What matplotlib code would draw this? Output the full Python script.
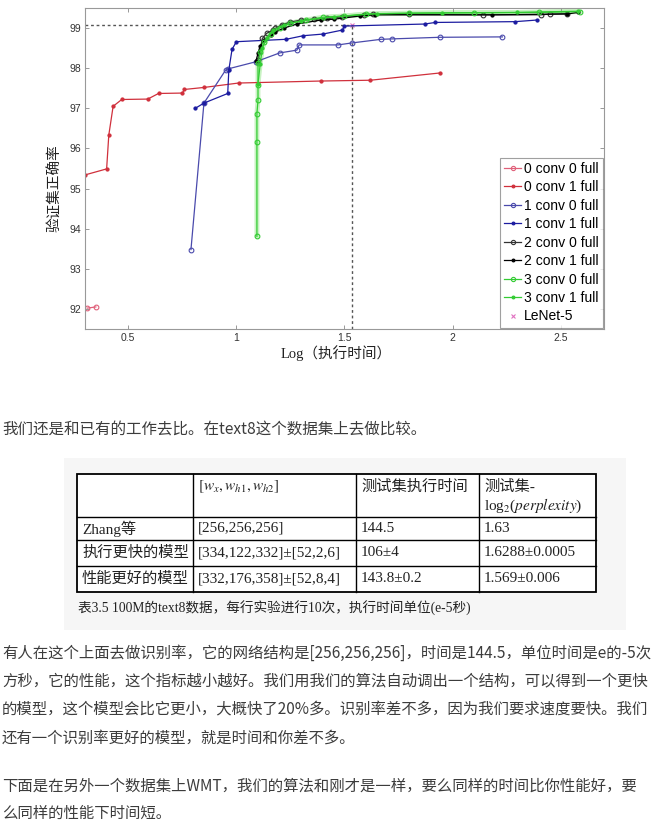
import matplotlib
matplotlib.use("Agg")
import matplotlib.pyplot as plt
from matplotlib.patches import Rectangle

# ── DATA ─────────────────────────────────────────

red_o_x = [0.31, 0.35]
red_o_y = [92.02, 92.05]

red_f_x = [0.30, 0.40, 0.41, 0.43, 0.47, 0.59, 0.64, 0.75, 0.76, 0.85, 1.01, 1.39, 1.62, 1.94]
red_f_y = [95.34, 95.49, 96.33, 97.05, 97.22, 97.23, 97.37, 97.38, 97.47, 97.52, 97.63, 97.68, 97.70, 97.88]

blue_o_x = [0.79, 0.85, 0.95, 0.96, 1.09, 1.20, 1.28, 1.29, 1.47, 1.535, 1.67, 1.72, 1.94, 2.23]
blue_o_y = [93.48, 97.13, 97.95, 97.98, 98.16, 98.38, 98.45, 98.58, 98.58, 98.63, 98.72, 98.73, 98.77, 98.78]

blue_f_x = [0.81, 0.85, 0.96, 0.965, 0.98, 1.0, 1.23, 1.31, 1.40, 1.49, 1.50, 1.87, 1.92, 2.29, 2.39]
blue_f_y = [97.0, 97.13, 97.37, 97.95, 98.47, 98.66, 98.72, 98.81, 98.85, 98.95, 99.05, 99.10, 99.14, 99.16, 99.20]

black_o_x = [1.10, 1.12, 1.14, 1.17, 1.18, 1.21, 1.25, 1.30, 1.36, 1.42, 1.49, 1.59, 1.63, 1.80, 2.14, 2.41, 2.45, 2.53]
black_o_y = [98.2, 98.74, 98.87, 98.95, 98.99, 99.08, 99.15, 99.2, 99.22, 99.24, 99.28, 99.33, 99.34, 99.34, 99.33, 99.33, 99.35, 99.36]

black_f_x = [1.09, 1.10, 1.11, 1.13, 1.16, 1.18, 1.22, 1.28, 1.39, 1.45, 1.57, 1.64, 2.18, 2.53, 2.58]
black_f_y = [98.17, 98.37, 98.56, 98.7, 98.82, 98.9, 99.0, 99.1, 99.2, 99.22, 99.3, 99.33, 99.33, 99.35, 99.39]

green_o_x = [1.095, 1.095, 1.095, 1.10, 1.10, 1.10, 1.11, 1.13, 1.16, 1.20, 1.25, 1.32, 1.40, 1.50, 1.60, 1.80, 2.10, 2.40, 2.59]
green_o_y = [93.81, 96.16, 96.87, 97.2, 97.57, 98.12, 98.4, 98.65, 98.85, 99.0, 99.12, 99.2, 99.27, 99.3, 99.35, 99.37, 99.38, 99.39, 99.41]

green_f_x = [1.10, 1.11, 1.12, 1.14, 1.17, 1.22, 1.30, 1.45, 1.65, 1.95, 2.30, 2.58]
green_f_y = [97.6, 98.1, 98.5, 98.75, 98.95, 99.08, 99.18, 99.28, 99.36, 99.38, 99.39, 99.42]

lenet_x = [1.535]
lenet_y = [99.07]

series_labels = ["0 conv 0 full", "0 conv 1 full", "1 conv 0 full", "1 conv 1 full",
                 "2 conv 0 full", "2 conv 1 full", "3 conv 0 full", "3 conv 1 full"]

x_ticks = [0.5, 1, 1.5, 2, 2.5]
x_tick_labels = ["0.5", "1", "1.5", "2", "2.5"]
y_ticks = [92, 93, 94, 95, 96, 97, 98, 99]

intro_text = "我们还是和已有的工作去比。在text8这个数据集上去做比较。"

table_header = ["", r"$[w_x, w_{h1}, w_{h2}]$", "测试集执行时间", "测试集-"]
table_header2 = ["", "", "", r"log$_2$($perplexity$)"]
row_names = ["Zhang等", "执行更快的模型", "性能更好的模型"]
row_struct = ["[256,256,256]", "[334,122,332]±[52,2,6]", "[332,176,358]±[52,8,4]"]
row_time = ["144.5", "106±4", "143.8±0.2"]
row_ppl = ["1.63", "1.6288±0.0005", "1.569±0.006"]
table_caption = "表3.5 100M的text8数据，每行实验进行10次，执行时间单位(e-5秒)"

para1 = [
    "有人在这个上面去做识别率，它的网络结构是[256,256,256]，时间是144.5，单位时间是e的-5次",
    "方秒，它的性能，这个指标越小越好。我们用我们的算法自动调出一个结构，可以得到一个更快",
    "的模型，这个模型会比它更小，大概快了20%多。识别率差不多，因为我们要求速度要快。我们",
    "还有一个识别率更好的模型，就是时间和你差不多。",
]
para2 = [
    "下面是在另外一个数据集上WMT，我们的算法和刚才是一样，要么同样的时间比你性能好，要",
    "么同样的性能下时间短。",
]

# ── SETUP ────────────────────────────────────────

W, H = 668, 825
CJK = ["Noto Sans CJK SC", "DejaVu Sans"]
SERIF_CJK = ["Liberation Serif", "Noto Sans CJK SC"]
TEXT_COLOR = "#3c3c3c"

plt.rcParams["font.family"] = ["Liberation Sans", "Noto Sans CJK SC"]
plt.rcParams["mathtext.fontset"] = "stix"


def px_box(l, t, r, b):
    return [l / W, 1 - b / H, (r - l) / W, (b - t) / H]


fig = plt.figure(figsize=(W / 100, H / 100), dpi=100)

page = fig.add_axes([0, 0, 1, 1], zorder=0)
page.set_xlim(0, W)
page.set_ylim(H, 0)
page.axis("off")

# ── CHART ────────────────────────────────────────

ax = fig.add_axes(px_box(85, 8, 604, 329), zorder=1)

RED, RED_L = "#d0303c", "#e0607a"
BLUE, BLUE_L = "#1c1ca0", "#4a4aac"
GREEN = "#33cc33"
GLOW = "#c8f2c2"

series = [
    (red_o_x, red_o_y, RED_L, "o", "none"),
    (red_f_x, red_f_y, RED, ".", RED),
    (blue_o_x, blue_o_y, BLUE_L, "o", "none"),
    (blue_f_x, blue_f_y, BLUE, ".", BLUE),
    (black_o_x, black_o_y, "#333333", "o", "none"),
    (black_f_x, black_f_y, "black", ".", "black"),
    (green_o_x, green_o_y, GREEN, "o", "none"),
    (green_f_x, green_f_y, GREEN, ".", GREEN),
]

# soft halo under the green runs (blurred screenshot look)
for xs, ys, col, mk, mfc in series[6:]:
    ax.plot(xs, ys, color=GLOW, lw=3.5, zorder=1.5, solid_capstyle="round")

for (xs, ys, col, mk, mfc), lab in zip(series, series_labels):
    ms = 3.4 if mk == "o" else 4.5
    z = 2.2 if col == GREEN else 2
    ax.plot(xs, ys, color=col, lw=0.9, marker=mk, ms=ms, mfc=mfc, mec=col,
            mew=0.8, label=lab, zorder=z)

ax.plot(lenet_x, lenet_y, linestyle="none", marker="x", ms=3, color="#e070c0",
        mew=0.8, label="LeNet-5", zorder=0)

# dashed guides through LeNet-5
ax.plot([0.3, lenet_x[0]], [lenet_y[0], lenet_y[0]], color="#555555", ls=(0, (2, 2)), lw=1.0, zorder=0)
ax.plot([lenet_x[0], lenet_x[0]], [91.5, lenet_y[0]], color="#555555", ls=(0, (2, 2)), lw=1.0, zorder=0)

ax.set_xlim(0.3, 2.7)
ax.set_ylim(91.5, 99.5)
ax.set_xticks(x_ticks)
ax.set_xticklabels(x_tick_labels)
ax.set_yticks(y_ticks)
ax.tick_params(direction="in", top=True, right=True, length=3, width=0.6,
               labelsize=7.5, colors="#888888", labelcolor="#333333", pad=3)
for s in ax.spines.values():
    s.set_color("#999999")
    s.set_linewidth(0.8)

ax.set_ylabel("验证集正确率", family=SERIF_CJK, fontsize=10.5, color="#222222")
ax.yaxis.set_label_coords(-0.044, 0.44)
ax.set_xlabel("Log（执行时间）", family=SERIF_CJK, fontsize=10.5, color="#222222")
ax.xaxis.set_label_coords(0.483, -0.05)

leg = ax.legend(loc="lower right", fontsize=10, frameon=True, fancybox=False,
                borderaxespad=0.1, handlelength=1.2, handletextpad=0.2,
                labelspacing=0.32, borderpad=0.3, markerscale=0.9)
leg.get_frame().set_edgecolor("#888888")
leg.get_frame().set_linewidth(0.8)

# ── PAGE TEXT ────────────────────────────────────

page.text(2, 430, intro_text, family=CJK, fontsize=11.2, color=TEXT_COLOR,
          va="center", ha="left")

# table image
page.add_patch(Rectangle((64, 458), 562, 172, facecolor="#f6f6f6", edgecolor="none"))
col_edges = [77, 193, 356, 479, 596]
row_edges = [474, 517, 540, 566, 592]
page.add_patch(Rectangle((col_edges[0], row_edges[0]), col_edges[-1] - col_edges[0],
                         row_edges[-1] - row_edges[0], facecolor="white",
                         edgecolor="black", lw=1.3))
for cx in col_edges[1:-1]:
    page.plot([cx, cx], [row_edges[0], row_edges[-1]], color="black", lw=1.0)
for ry in row_edges[1:-1]:
    page.plot([col_edges[0], col_edges[-1]], [ry, ry], color="black", lw=1.0)

TFS = 11
for i, txt in enumerate(table_header):
    if txt:
        page.text(col_edges[i] + 5, row_edges[0] + 13, txt, family=SERIF_CJK,
                  fontsize=TFS, va="center", ha="left", color="#222222")
for i, txt in enumerate(table_header2):
    if txt:
        page.text(col_edges[i] + 5, row_edges[0] + 32, txt, family=SERIF_CJK,
                  fontsize=TFS, va="center", ha="left", color="#222222")

rows = list(zip(row_names, row_struct, row_time, row_ppl))
for r, cells in enumerate(rows):
    yc = (row_edges[r + 1] + row_edges[r + 2]) / 2
    for i, txt in enumerate(cells):
        page.text(col_edges[i] + 5, yc, txt, family=SERIF_CJK, fontsize=TFS,
                  va="center", ha="left", color="#222222")

page.text(78, 608, table_caption, family=SERIF_CJK, fontsize=9.8,
          va="center", ha="left", color="#222222")

for k, line in enumerate(para1):
    page.text(2, 653 + k * 28.3, line, family=CJK, fontsize=11.1, color=TEXT_COLOR,
              va="center", ha="left")
for k, line in enumerate(para2):
    page.text(2, 786 + k * 27.5, line, family=CJK, fontsize=11.1, color=TEXT_COLOR,
              va="center", ha="left")

fig.savefig("out.png", dpi=100)
